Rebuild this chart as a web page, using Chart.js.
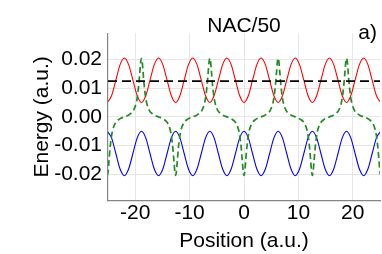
<!DOCTYPE html>
<html>
<head>
<meta charset="utf-8">
<script src="https://cdn.jsdelivr.net/npm/chart.js@4.4.1/dist/chart.umd.min.js"></script>
<style>
  html, body { margin: 0; padding: 0; background: #fff; }
</style>
</head>
<body>
<canvas id="chart" width="382" height="254"></canvas>
<script>
// sample positions for the two adiabatic curves (a.u.)
var curvePos = [
  -25.13, -24.35, -23.56, -22.78, -21.99, -21.21, -20.42, -19.63,
  -18.85, -18.06, -17.28, -16.49, -15.71, -14.92, -14.14, -13.35,
  -12.57, -11.78, -11.00, -10.21, -9.42, -8.64, -7.85, -7.07,
  -6.28, -5.50, -4.71, -3.93, -3.14, -2.36, -1.57, -0.79,
  0,
  0.79, 1.57, 2.36, 3.14, 3.93, 4.71, 5.50, 6.28,
  7.07, 7.85, 8.64, 9.42, 10.21, 11.00, 11.78, 12.57,
  13.35, 14.14, 14.92, 15.71, 16.49, 17.28, 18.06, 18.85,
  19.63, 20.42, 21.21, 21.99, 22.78, 23.56, 24.35, 25.13
];
var upperEnergy = [
  0.005, 0.0073, 0.0127, 0.0181, 0.0204, 0.0181, 0.0127, 0.0073,
  0.005, 0.0073, 0.0127, 0.0181, 0.0204, 0.0181, 0.0127, 0.0073,
  0.005, 0.0073, 0.0127, 0.0181, 0.0204, 0.0181, 0.0127, 0.0073,
  0.005, 0.0073, 0.0127, 0.0181, 0.0204, 0.0181, 0.0127, 0.0073,
  0.005,
  0.0073, 0.0127, 0.0181, 0.0204, 0.0181, 0.0127, 0.0073, 0.005,
  0.0073, 0.0127, 0.0181, 0.0204, 0.0181, 0.0127, 0.0073, 0.005,
  0.0073, 0.0127, 0.0181, 0.0204, 0.0181, 0.0127, 0.0073, 0.005,
  0.0073, 0.0127, 0.0181, 0.0204, 0.0181, 0.0127, 0.0073, 0.005
];
var lowerEnergy = [
  -0.005, -0.0073, -0.0127, -0.0181, -0.0204, -0.0181, -0.0127, -0.0073,
  -0.005, -0.0073, -0.0127, -0.0181, -0.0204, -0.0181, -0.0127, -0.0073,
  -0.005, -0.0073, -0.0127, -0.0181, -0.0204, -0.0181, -0.0127, -0.0073,
  -0.005, -0.0073, -0.0127, -0.0181, -0.0204, -0.0181, -0.0127, -0.0073,
  -0.005,
  -0.0073, -0.0127, -0.0181, -0.0204, -0.0181, -0.0127, -0.0073, -0.005,
  -0.0073, -0.0127, -0.0181, -0.0204, -0.0181, -0.0127, -0.0073, -0.005,
  -0.0073, -0.0127, -0.0181, -0.0204, -0.0181, -0.0127, -0.0073, -0.005,
  -0.0073, -0.0127, -0.0181, -0.0204, -0.0181, -0.0127, -0.0073, -0.005
];

// NAC/50, green dashed
var nacPos = [
  -25.43, -25.28, -25.13, -24.98, -24.83, -24.63, -24.38, -24.13, -23.63, -23.13, -22.63,
  -21.99,
  -21.35, -20.85, -20.35, -19.85, -19.60, -19.35, -19.15, -19.00, -18.85, -18.70, -18.55, -18.35, -18.10, -17.85, -17.35, -16.85, -16.35,
  -15.71,
  -15.07, -14.57, -14.07, -13.57, -13.32, -13.07, -12.87, -12.72, -12.57, -12.42, -12.27, -12.07, -11.82, -11.57, -11.07, -10.57, -10.07,
  -9.42,
  -8.78, -8.28, -7.78, -7.28, -7.03, -6.78, -6.58, -6.43, -6.28, -6.13, -5.98, -5.78, -5.53, -5.28, -4.78, -4.28, -3.78,
  -3.14,
  -2.50, -2.00, -1.50, -1.00, -0.75, -0.50, -0.30, -0.15, 0, 0.15, 0.30, 0.50, 0.75, 1.00, 1.50, 2.00, 2.50,
  3.14,
  3.78, 4.28, 4.78, 5.28, 5.53, 5.78, 5.98, 6.13, 6.28, 6.43, 6.58, 6.78, 7.03, 7.28, 7.78, 8.28, 8.78,
  9.42,
  10.07, 10.57, 11.07, 11.57, 11.82, 12.07, 12.27, 12.42, 12.57, 12.72, 12.87, 13.07, 13.32, 13.57, 14.07, 14.57, 15.07,
  15.71,
  16.35, 16.85, 17.35, 17.85, 18.10, 18.35, 18.55, 18.70, 18.85, 19.00, 19.15, 19.35, 19.60, 19.85, 20.35, 20.85, 21.35,
  21.99,
  22.63, 23.13, 23.63, 24.13, 24.38, 24.63, 24.83, 24.98, 25.13, 25.28, 25.43
];
var nacVal = [
  -0.0155, -0.0189, -0.0203, -0.0189, -0.0155, -0.0110, -0.0070, -0.0045, -0.0021, -0.0011, -0.0005,
  0,
  0.0005, 0.0011, 0.0021, 0.0045, 0.0070, 0.0110, 0.0155, 0.0189, 0.0203, 0.0189, 0.0155, 0.0110, 0.0070, 0.0045, 0.0021, 0.0011, 0.0005,
  0,
  -0.0005, -0.0011, -0.0021, -0.0045, -0.0070, -0.0110, -0.0155, -0.0189, -0.0203, -0.0189, -0.0155, -0.0110, -0.0070, -0.0045, -0.0021, -0.0011, -0.0005,
  0,
  0.0005, 0.0011, 0.0021, 0.0045, 0.0070, 0.0110, 0.0155, 0.0189, 0.0203, 0.0189, 0.0155, 0.0110, 0.0070, 0.0045, 0.0021, 0.0011, 0.0005,
  0,
  -0.0005, -0.0011, -0.0021, -0.0045, -0.0070, -0.0110, -0.0155, -0.0189, -0.0203, -0.0189, -0.0155, -0.0110, -0.0070, -0.0045, -0.0021, -0.0011, -0.0005,
  0,
  0.0005, 0.0011, 0.0021, 0.0045, 0.0070, 0.0110, 0.0155, 0.0189, 0.0203, 0.0189, 0.0155, 0.0110, 0.0070, 0.0045, 0.0021, 0.0011, 0.0005,
  0,
  -0.0005, -0.0011, -0.0021, -0.0045, -0.0070, -0.0110, -0.0155, -0.0189, -0.0203, -0.0189, -0.0155, -0.0110, -0.0070, -0.0045, -0.0021, -0.0011, -0.0005,
  0,
  0.0005, 0.0011, 0.0021, 0.0045, 0.0070, 0.0110, 0.0155, 0.0189, 0.0203, 0.0189, 0.0155, 0.0110, 0.0070, 0.0045, 0.0021, 0.0011, 0.0005,
  0,
  -0.0005, -0.0011, -0.0021, -0.0045, -0.0070, -0.0110, -0.0155, -0.0189, -0.0203, -0.0189, -0.0155
];

// total energy, black dashed
var levelPos = [-25, 25];
var levelVal = [0.0124, 0.0124];

var xTicks = [-20, -10, 0, 10, 20];
var yTicks = [-0.02, -0.01, 0, 0.01, 0.02];
var titleText = "NAC/50";
var panelLabel = "a)";

function toPoints(xs, ys) {
    return xs.map(function (x, i) { return { x: x, y: ys[i] }; });
}

Chart.defaults.font.family = '"Liberation Sans", Arial, sans-serif';
Chart.defaults.color = "#000";

// the "a)" tag in the top right corner
var panelLabelPlugin = {
    id: "panelLabel",
    afterDraw: function (chart) {
        var ctx = chart.ctx;
        ctx.save();
        ctx.font = '21px "Liberation Sans", Arial, sans-serif';
        ctx.fillStyle = "#000";
        ctx.textAlign = "right";
        ctx.textBaseline = "middle";
        ctx.fillText(panelLabel, 377, 33);
        ctx.restore();
    }
};

new Chart(document.getElementById("chart"), {
    type: "line",
    plugins: [panelLabelPlugin],
    data: {
        datasets: [
            {
                label: "level",
                data: toPoints(levelPos, levelVal),
                borderColor: "#000",
                borderWidth: 1.6,
                borderDash: [9, 5],
                order: 1
            },
            {
                label: "NAC/50",
                data: toPoints(nacPos, nacVal),
                borderColor: "#228b22",
                borderWidth: 1.7,
                borderDash: [6, 3.5],
                cubicInterpolationMode: "monotone",
                order: 2
            },
            {
                label: "upper",
                data: toPoints(curvePos, upperEnergy),
                borderColor: "#ff0000",
                borderWidth: 1.1,
                cubicInterpolationMode: "monotone",
                order: 3
            },
            {
                label: "lower",
                data: toPoints(curvePos, lowerEnergy),
                borderColor: "#0000ff",
                borderWidth: 1.1,
                cubicInterpolationMode: "monotone",
                order: 4
            }
        ]
    },
    options: {
        responsive: false,
        animation: false,
        devicePixelRatio: 1,
        elements: { point: { radius: 0 } },
        layout: { padding: { left: 0, right: 2, top: 0, bottom: 0 } },
        plugins: {
            legend: { display: false },
            tooltip: { enabled: false },
            title: {
                display: true,
                text: titleText,
                fullSize: false,
                color: "#000",
                font: { size: 21, weight: "normal", lineHeight: 0.7 },
                padding: { top: 18.5, bottom: 0 }
            }
        },
        scales: {
            x: {
                type: "linear",
                min: -25,
                max: 25,
                afterBuildTicks: function (scale) {
                    scale.ticks = xTicks.map(function (v) { return { value: v }; });
                },
                afterFit: function (scale) { scale.height = 53.5; },
                grid: { color: "#e6e6e6", drawTicks: false },
                border: { color: "#858585", width: 1.2 },
                ticks: { padding: 0, maxRotation: 0, font: { size: 21 }, color: "#000" },
                title: {
                    display: true,
                    text: "Position (a.u.)",
                    color: "#000",
                    font: { size: 21 },
                    padding: { top: 0, bottom: 0 }
                }
            },
            y: {
                type: "linear",
                min: -0.029,
                max: 0.029,
                afterBuildTicks: function (scale) {
                    scale.ticks = yTicks.map(function (v) { return { value: v }; });
                },
                afterFit: function (scale) { scale.width = 108; },
                grid: { color: "#e6e6e6", drawTicks: false },
                border: { color: "#858585", width: 1.2 },
                ticks: {
                    padding: 6,
                    font: { size: 21 },
                    color: "#000",
                    callback: function (v) {
                        return Math.abs(v) < 1e-9 ? "0.00" : v.toFixed(2);
                    }
                },
                title: {
                    display: true,
                    text: "Energy (a.u.)",
                    color: "#000",
                    font: { size: 21 },
                    padding: { top: 30, bottom: 0 }
                }
            }
        }
    }
});
</script>
</body>
</html>
